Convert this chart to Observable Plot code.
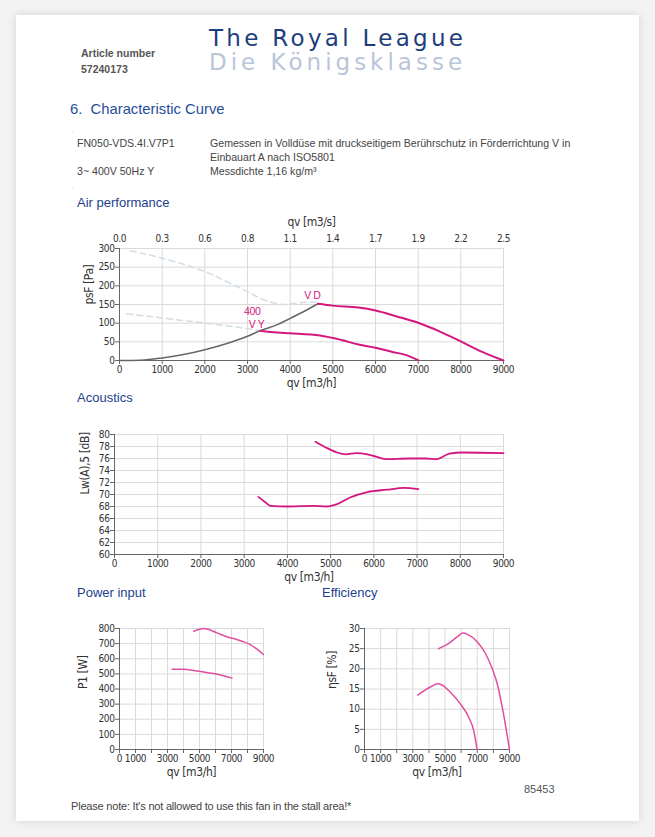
<!DOCTYPE html>
<html><head><meta charset="utf-8">
<script src="https://cdn.jsdelivr.net/npm/d3@7"></script>
<script src="https://cdn.jsdelivr.net/npm/@observablehq/plot@0.6"></script>
<style>
body{margin:0;background:#f3f3f3;width:655px;height:837px;overflow:hidden;position:relative;font-family:"Liberation Sans",Arial,sans-serif;}
#card{position:absolute;left:16px;top:15px;width:623px;height:806px;background:#fff;box-shadow:0 0 9px rgba(0,0,0,0.13);}
.t{position:absolute;white-space:nowrap;line-height:14px;}
.chart{position:absolute;}
</style></head><body>
<div id="card"></div>
<div class="t" style="left:81px;top:46px;font-weight:bold;font-size:10.5px;color:#555">Article number</div>
<div class="t" style="left:81px;top:62px;font-weight:bold;font-size:10.5px;color:#555">57240173</div>
<div class="t" style="left:209px;top:26px;line-height:25px;font-size:23px;color:#1e3d7b;font-family:'DejaVu Sans',sans-serif;letter-spacing:3.3px">The Royal League</div>
<div class="t" style="left:209px;top:50px;line-height:25px;font-size:23px;color:#b9c5d9;font-family:'DejaVu Sans',sans-serif;letter-spacing:4.0px">Die Königsklasse</div>
<div class="t" style="left:70px;top:100px;line-height:18px;font-size:14.8px;color:#1f4e9a">6.&nbsp; Characteristic Curve</div>
<div class="t" style="left:71px;top:124px;font-size:8px;color:#aaa">.</div>
<div class="t" style="left:77px;top:136px;font-size:10.6px;color:#444">FN050-VDS.4I.V7P1</div>
<div class="t" style="left:210px;top:136px;font-size:10.6px;color:#444">Gemessen in Volldüse mit druckseitigem Berührschutz in Förderrichtung V in</div>
<div class="t" style="left:210px;top:150px;font-size:10.6px;color:#444">Einbauart A nach ISO5801</div>
<div class="t" style="left:77px;top:164px;font-size:10.6px;color:#444">3~ 400V 50Hz Y</div>
<div class="t" style="left:210px;top:164px;font-size:10.6px;color:#444">Messdichte 1,16 kg/m³</div>
<div class="t" style="left:71px;top:180px;font-size:8px;color:#aaa">.</div>
<div class="t" style="left:77px;top:195px;line-height:16px;font-size:13px;color:#1c3f8c">Air performance</div>
<div class="t" style="left:77px;top:390px;line-height:16px;font-size:13px;color:#1c3f8c">Acoustics</div>
<div class="t" style="left:77px;top:585px;line-height:16px;font-size:13px;color:#1c3f8c">Power input</div>
<div class="t" style="left:322px;top:585px;line-height:16px;font-size:13px;color:#1c3f8c">Efficiency</div>
<div class="t" style="left:524px;top:782px;font-size:11px;color:#555">85453</div>
<div class="t" style="left:71px;top:799px;font-size:11px;color:#444;letter-spacing:-0.2px">Please note: It's not allowed to use this fan in the stall area!*</div>
<script>
// ---------- data ----------
const qvTicks = [0,1000,2000,3000,4000,5000,6000,7000,8000,9000];
const qvTopLabels = ["0.0","0.3","0.6","0.8","1.1","1.4","1.7","1.9","2.2","2.5"];
const smallQvLabels = [0,1000,3000,5000,7000,9000];

// Air performance
const psTicks = [0,50,100,150,200,250,300];
const vdQv = [4650,5000,5600,6000,6500,7000,7500,8000,8500,9000];
const vdPs = [152,147,142,134,118,101,78,51,23,0];
const vyQv = [3300,3700,4000,4700,5200,5600,6000,6400,6700,7000];
const vyPs = [80,75,73,67,55,43,34,23,15,1];
const sysQv = [0,500,1000,1500,2000,2500,3000,3300,3700,4000,4300,4650];
const sysPs = [0,1,7,16,29,45,65,80,96,113,130,152];
const stallVdQv = [250,1000,2000,2900,3450,3850,4250,4650];
const stallVdPs = [294,274,238,190,160,150,155,157];
const stallVyQv = [170,1000,2000,2900,3300];
const stallVyPs = [125,114,100,87,80];
const curveLabels = [
  {qv:4520, ps:173, text:"V D"},
  {qv:3110, ps:130, text:"400"},
  {qv:3210, ps:96, text:"V Y"}
];

// Acoustics
const lwTicks = [60,62,64,66,68,70,72,74,76,78,80];
const lwVdQv = [4650,4900,5150,5350,5600,5850,6050,6300,6800,7200,7450,7750,8050,9000];
const lwVd = [78.8,77.8,77.0,76.7,76.9,76.7,76.3,75.9,76.0,76.0,75.9,76.8,77.0,76.9];
const lwVyQv = [3330,3490,3610,4000,4600,4900,5150,5450,5850,6300,6700,7030];
const lwVy = [69.6,68.7,68.1,68.0,68.1,68.0,68.4,69.5,70.4,70.8,71.1,70.9];

// Power input
const pTicks = [0,100,200,300,400,500,600,700,800];
const pVdQv = [4640,5260,5470,6090,6700,7130,7650,8170,8590,9000];
const pVd = [782,800,797,771,745,734,716,694,663,628];
const pVyQv = [3290,4010,4640,5260,5880,6510,7030];
const pVy = [531,531,522,513,502,487,472];

// Efficiency
const etaTicks = [0,5,10,15,20,25,30];
const etaVdQv = [4600,5230,5750,6100,6370,6990,7510,7930,8240,8550,9000];
const etaVd = [25.0,26.3,27.9,28.9,28.6,26.7,23.8,20.0,16.3,10.5,0];
const etaVyQv = [3300,4090,4540,4810,5330,5950,6470,6780,6990];
const etaVy = [13.5,15.5,16.3,16.0,14.2,11.3,8.0,4.7,0];

// ---------- drawing ----------
const FONT = '"Liberation Sans Narrow","Arial Narrow","DejaVu Sans Condensed","Liberation Sans",Arial,sans-serif';
const MAG = "#d3177f", PINK = "#df4fa0", GRID = "#dadada", AX = "#666";
const rows = (xs, ys) => xs.map((x,i) => ({x, y: ys[i]}));
const STYLE = {fontFamily:FONT, fontSize:"10px", letterSpacing:"-0.4px", background:"transparent", overflow:"visible"};

function place(svg, left, top){
  const d = document.createElement("div");
  d.className = "chart"; d.style.left = left+"px"; d.style.top = top+"px";
  d.appendChild(svg); document.body.appendChild(d);
}

function baseMarks(yTicks, yDomain, xFmt, yLabel, yLabelDx){
  return [
    Plot.gridX(qvTicks, {stroke:GRID, strokeOpacity:1}),
    Plot.gridY(yTicks, {stroke:GRID, strokeOpacity:1}),
    Plot.frame({stroke:GRID}),
    Plot.ruleX([0], {stroke:AX}),
    Plot.ruleY([yDomain[0]], {stroke:AX}),
    Plot.axisX(qvTicks, {anchor:"bottom", tickSize:4, tickPadding:1, tickFormat:xFmt, label:null, stroke:AX, fill:"#333"}),
    Plot.axisY(yTicks, {anchor:"left", tickSize:4, tickPadding:1, label:null, stroke:AX, fill:"#333"}),
    Plot.text(["qv [m3/h]"], {frameAnchor:"bottom", lineAnchor:"middle", dy:23, fontSize:12, fill:"#333"}),
    Plot.text([yLabel], {frameAnchor:"left", dx:yLabelDx, rotate:-90, fontSize:12, fill:"#333"})
  ];
}

// Air performance
place(Plot.plot({
  width:460, height:175, marginLeft:59, marginRight:17, marginTop:33, marginBottom:30,
  style:STYLE,
  x:{domain:[0,9000]}, y:{domain:[0,300]},
  marks:[
    ...baseMarks(psTicks, [0,300], d=>String(d), "psF [Pa]", -30),
    Plot.axisX(qvTicks, {anchor:"top", tickSize:0, tickPadding:7, tickFormat:(d,i)=>qvTopLabels[i], label:null, fill:"#333"}),
    Plot.text(["qv [m3/s]"], {frameAnchor:"top", lineAnchor:"middle", dy:-26, fontSize:12, fill:"#333"}),
    Plot.line(rows(stallVdQv, stallVdPs), {x:"x", y:"y", stroke:"#d3dde5", strokeWidth:1.5, strokeDasharray:"6,4", curve:"monotone-x"}),
    Plot.line(rows(stallVyQv, stallVyPs), {x:"x", y:"y", stroke:"#d3dde5", strokeWidth:1.5, strokeDasharray:"6,4", curve:"monotone-x"}),
    Plot.line(rows(sysQv, sysPs), {x:"x", y:"y", stroke:"#666", strokeWidth:1.5, curve:"monotone-x"}),
    Plot.line(rows(vdQv, vdPs), {x:"x", y:"y", stroke:MAG, strokeWidth:2, curve:"monotone-x"}),
    Plot.line(rows(vyQv, vyPs), {x:"x", y:"y", stroke:MAG, strokeWidth:2, curve:"monotone-x"}),
    Plot.text(curveLabels, {x:"qv", y:"ps", text:"text", fill:MAG, fontSize:10.5, fontFamily:'"Liberation Sans",Arial,sans-serif'})
  ]
}), 60, 215);

// Acoustics
place(Plot.plot({
  width:460, height:175, marginLeft:54, marginRight:17, marginTop:19, marginBottom:36,
  style:STYLE,
  x:{domain:[0,9000]}, y:{domain:[60,80]},
  marks:[
    ...baseMarks(lwTicks, [60,80], d=>String(d), "Lw(A),5 [dB]", -29),
    Plot.line(rows(lwVdQv, lwVd), {x:"x", y:"y", stroke:MAG, strokeWidth:1.8, curve:"monotone-x"}),
    Plot.line(rows(lwVyQv, lwVy), {x:"x", y:"y", stroke:MAG, strokeWidth:1.8, curve:"monotone-x"})
  ]
}), 60, 415);

const smallFmt = d => smallQvLabels.includes(d) ? String(d) : "";

// Power input
place(Plot.plot({
  width:220, height:175, marginLeft:59, marginRight:17, marginTop:18, marginBottom:36,
  style:STYLE,
  x:{domain:[0,9000]}, y:{domain:[0,800]},
  marks:[
    ...baseMarks(pTicks, [0,800], smallFmt, "P1 [W]", -36),
    Plot.line(rows(pVdQv, pVd), {x:"x", y:"y", stroke:PINK, strokeWidth:1.5, curve:"monotone-x"}),
    Plot.line(rows(pVyQv, pVy), {x:"x", y:"y", stroke:PINK, strokeWidth:1.5, curve:"monotone-x"})
  ]
}), 60, 610);

// Efficiency
place(Plot.plot({
  width:230, height:175, marginLeft:64, marginRight:21, marginTop:18, marginBottom:36,
  style:STYLE,
  x:{domain:[0,9000]}, y:{domain:[0,30]},
  marks:[
    ...baseMarks(etaTicks, [0,30], smallFmt, "ηsF [%]", -32),
    Plot.line(rows(etaVdQv, etaVd), {x:"x", y:"y", stroke:PINK, strokeWidth:1.5, curve:"monotone-x"}),
    Plot.line(rows(etaVyQv, etaVy), {x:"x", y:"y", stroke:PINK, strokeWidth:1.5, curve:"monotone-x"})
  ]
}), 300, 610);
</script>
</body></html>
